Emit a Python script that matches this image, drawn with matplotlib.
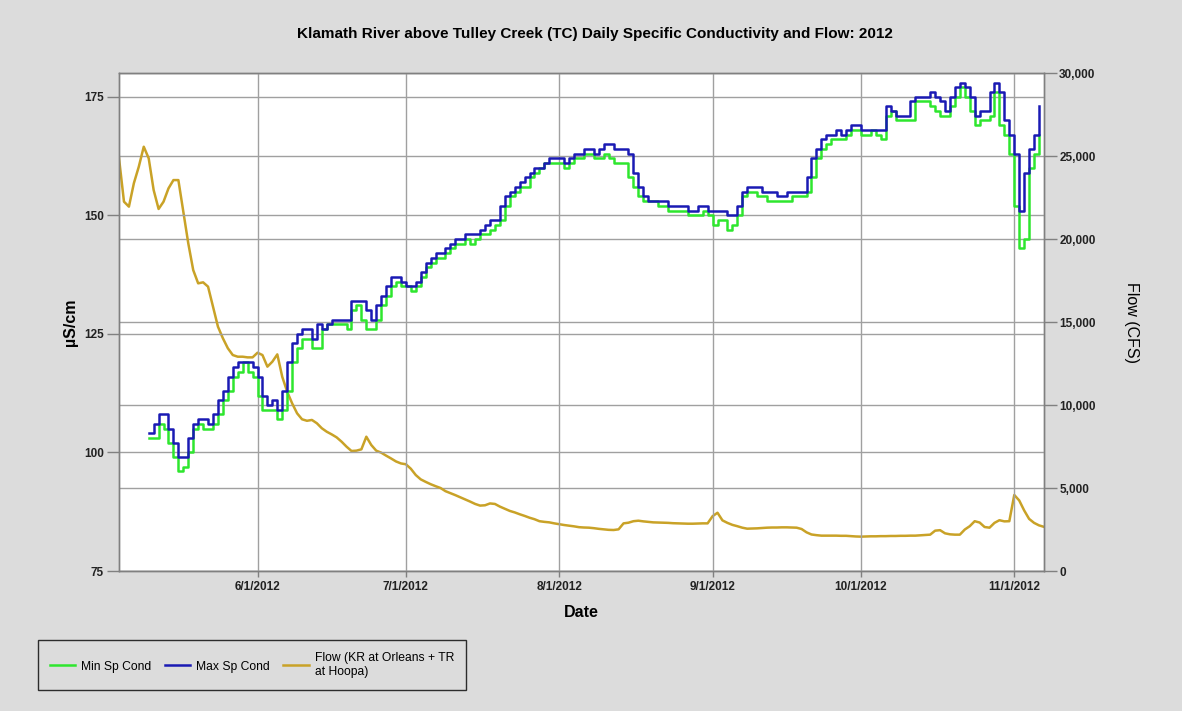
import matplotlib
matplotlib.use("Agg")
import matplotlib.pyplot as plt
import matplotlib.dates as mdates
from matplotlib.ticker import FuncFormatter, FixedLocator
import pandas as pd

# daily min / max specific conductivity (uS/cm), starting 5/10/2012
cond_start = "2012-05-10"
max_sp_cond = [
    104, 106, 108, 108, 105, 102, 99, 99, 103, 106,
    107, 107, 106, 108, 111, 113, 116, 118, 119, 119,
    119, 118, 116, 112, 110, 111, 109, 113, 119, 123,
    125, 126, 126, 124, 127, 126, 127, 128, 128, 128,
    128, 132, 132, 132, 130, 128, 131, 133, 135, 137,
    137, 136, 135, 135, 136, 138, 140, 141, 142, 142,
    143, 144, 145, 145, 146, 146, 146, 147, 148, 149,
    149, 152, 154, 155, 156, 157, 158, 159, 160, 160,
    161, 162, 162, 162, 161, 162, 163, 163, 164, 164,
    163, 164, 165, 165, 164, 164, 164, 163, 159, 156,
    154, 153, 153, 153, 153, 152, 152, 152, 152, 151,
    151, 152, 152, 151, 151, 151, 151, 150, 150, 152,
    155, 156, 156, 156, 155, 155, 155, 154, 154, 155,
    155, 155, 155, 158, 162, 164, 166, 167, 167, 168,
    167, 168, 169, 169, 168, 168, 168, 168, 168, 173,
    172, 171, 171, 171, 174, 175, 175, 175, 176, 175,
    174, 172, 175, 177, 178, 177, 175, 171, 172, 172,
    176, 178, 176, 170, 167, 163, 151, 159, 164, 167, 173,
]
min_sp_cond = [
    103, 103, 106, 105, 102, 99, 96, 97, 100, 105,
    106, 105, 105, 106, 108, 111, 113, 116, 117, 119,
    117, 116, 112, 109, 109, 109, 107, 109, 113, 119,
    122, 124, 124, 122, 122, 126, 127, 127, 127, 127,
    126, 130, 131, 128, 126, 126, 128, 131, 133, 135,
    136, 135, 135, 134, 135, 137, 139, 140, 141, 141,
    142, 143, 144, 144, 145, 144, 145, 146, 146, 147,
    148, 149, 152, 154, 155, 156, 156, 158, 159, 160,
    161, 161, 161, 161, 160, 161, 162, 162, 163, 163,
    162, 162, 163, 162, 161, 161, 161, 158, 156, 154,
    153, 153, 153, 152, 152, 151, 151, 151, 151, 150,
    150, 150, 151, 150, 148, 149, 149, 147, 148, 150,
    154, 155, 155, 154, 154, 153, 153, 153, 153, 153,
    154, 154, 154, 155, 158, 162, 164, 165, 166, 166,
    166, 167, 168, 168, 167, 167, 168, 167, 166, 171,
    172, 170, 170, 170, 170, 174, 174, 174, 173, 172,
    171, 171, 173, 175, 177, 175, 172, 169, 170, 170,
    171, 176, 169, 167, 163, 152, 143, 145, 160, 163, 167,
]

# daily flow (cfs), KR at Orleans + TR at Hoopa, starting 5/4/2012
flow_start = "2012-05-04"
flow_cfs = [
    24860, 22250, 21950, 23360, 24360, 25560, 24860, 22950, 21810, 22250,
    23050, 23550, 23550, 21650, 19740, 18130, 17330, 17390, 17130, 15920,
    14720, 14020, 13420, 13010, 12910, 12910, 12870, 12870, 13150, 13010,
    12310, 12610, 13050, 11700, 10800, 10100, 9500, 9140, 9050, 9100,
    8900, 8600, 8390, 8230, 8050, 7790, 7490, 7230, 7250, 7330,
    8090, 7590, 7250, 7130, 6950, 6780, 6600, 6480, 6430, 6160,
    5780, 5520, 5370, 5230, 5110, 5000, 4810, 4690, 4570, 4440,
    4310, 4180, 4040, 3940, 3960, 4070, 4040, 3880, 3750, 3620,
    3530, 3420, 3320, 3210, 3120, 3000, 2960, 2930, 2870, 2820,
    2770, 2730, 2690, 2640, 2620, 2610, 2580, 2540, 2510, 2480,
    2470, 2510, 2870, 2910, 3000, 3030, 2990, 2960, 2930, 2920,
    2910, 2900, 2880, 2870, 2860, 2850, 2850, 2860, 2870, 2870,
    3300, 3510, 3050, 2900, 2780, 2700, 2610, 2550, 2560, 2570,
    2590, 2610, 2620, 2620, 2630, 2630, 2620, 2610, 2530, 2330,
    2200, 2160, 2130, 2130, 2130, 2130, 2120, 2120, 2100, 2080,
    2070, 2080, 2090, 2090, 2100, 2100, 2110, 2110, 2120, 2120,
    2130, 2130, 2150, 2170, 2190, 2430, 2460, 2270, 2210, 2190,
    2190, 2500, 2700, 3000, 2920, 2650, 2610, 2900, 3060, 2990,
    3000, 4580, 4250, 3650, 3140, 2900, 2750, 2660,
]

cond_ticks = [75, 100, 125, 150, 175]
flow_ticks = [0, 5000, 10000, 15000, 20000, 25000, 30000]
month_ticks = ["2012-06-01", "2012-07-01", "2012-08-01",
               "2012-09-01", "2012-10-01", "2012-11-01"]

cond_dates = pd.date_range(cond_start, periods=len(max_sp_cond), freq="D")
flow_dates = pd.date_range(flow_start, periods=len(flow_cfs), freq="D")

BG = "#dcdcdc"
GRID = "#a0a0a0"
SPINE = "#808080"
FONT = "Liberation Sans"

plt.rcParams["font.family"] = FONT

fig = plt.figure(figsize=(11.82, 7.11), dpi=100, facecolor=BG)
ax = fig.add_axes([0.1007, 0.1969, 0.7825, 0.7004])
ax2 = ax.twinx()

# keep the flow axis (and its grid) behind the conductivity axis
ax2.set_zorder(ax.get_zorder() - 1)
ax.patch.set_visible(False)
ax2.patch.set_facecolor("white")
ax2.patch.set_visible(True)

l_flow, = ax2.plot(flow_dates, flow_cfs, color="#c9a227", lw=1.8,
                   label="Flow (KR at Orleans + TR\nat Hoopa)")
l_min, = ax.step(cond_dates, min_sp_cond, where="post", color="#2ee62e",
                 lw=1.8, label="Min Sp Cond")
l_max, = ax.step(cond_dates, max_sp_cond, where="post", color="#1a1ab4",
                 lw=1.8, label="Max Sp Cond")

ax.set_xlim(pd.Timestamp("2012-05-04"), pd.Timestamp("2012-11-07"))
ax.set_ylim(75, 180)
ax2.set_ylim(0, 30000)

ax.xaxis.set_major_locator(FixedLocator(mdates.date2num(pd.to_datetime(month_ticks))))
ax.xaxis.set_major_formatter(FuncFormatter(
    lambda x, pos: "{d.month}/{d.day}/{d.year}".format(d=mdates.num2date(x))))
ax.set_yticks(cond_ticks)
ax2.set_yticks(flow_ticks)
ax2.yaxis.set_major_formatter(FuncFormatter(lambda v, pos: f"{int(v):,}"))

ax.grid(True, color=GRID, lw=1)
ax2.grid(True, axis="y", color=GRID, lw=1)
ax2.grid(False, axis="x")

for a in (ax, ax2):
    for s in a.spines.values():
        s.set_color(SPINE)
        s.set_linewidth(1)
ax.tick_params(axis="y", length=9, width=1, color=SPINE, pad=2,
               labelsize=8.5, labelcolor="#222222")
ax.tick_params(axis="x", length=4, width=1, color=SPINE, pad=3,
               labelsize=8.5, labelcolor="#222222")
ax2.tick_params(axis="y", length=9, width=1, color=SPINE, pad=2,
                labelsize=8.5, labelcolor="#222222")
for lab in ax.get_xticklabels() + ax.get_yticklabels() + ax2.get_yticklabels():
    lab.set_fontweight("bold")

ax.set_xlabel("Date", fontsize=11.5, fontweight="bold", labelpad=9)
ax.set_ylabel("\u00b5S/cm", fontsize=11.5, fontweight="bold", labelpad=4)
ax2.set_ylabel("Flow (CFS)", fontsize=11.5, rotation=270, labelpad=31)

fig.text(0.503, 0.952,
         "Klamath River above Tulley Creek (TC) Daily Specific Conductivity and Flow: 2012",
         ha="center", va="center", fontsize=11, fontweight="bold")

leg = fig.legend(handles=[l_min, l_max, l_flow], loc="lower left",
                 bbox_to_anchor=(0.032, 0.0295), borderaxespad=0, ncol=3,
                 fontsize=8.7, frameon=True, fancybox=False, facecolor=BG,
                 edgecolor="black", handlelength=2.1, handletextpad=0.5,
                 columnspacing=1.1, borderpad=1.0)
leg.get_frame().set_linewidth(1)

fig.savefig("out.png", dpi=100, facecolor=BG)
